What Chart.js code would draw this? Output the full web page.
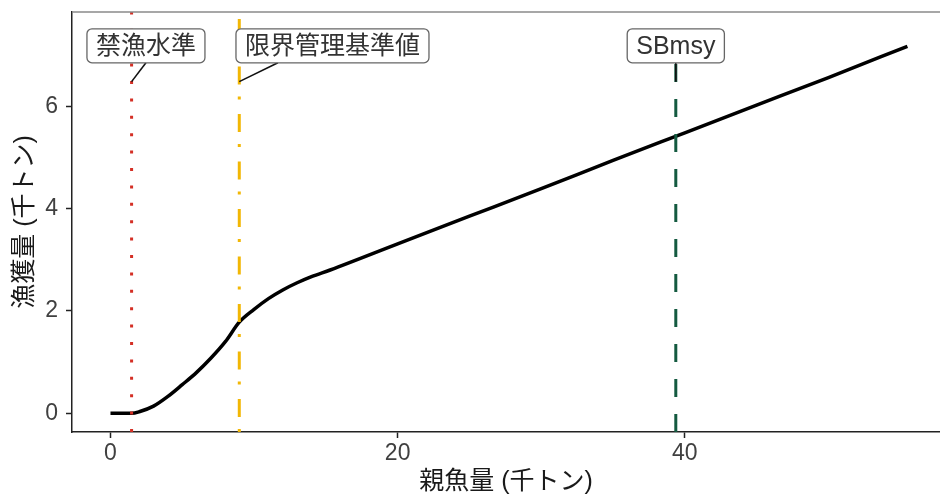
<!DOCTYPE html>
<html>
<head>
<meta charset="utf-8">
<script src="https://cdn.jsdelivr.net/npm/chart.js@4.4.1/dist/chart.umd.min.js"></script>
<style>
  html, body { margin: 0; padding: 0; background: #fff; }
  #wrap { width: 940px; height: 499px; }
</style>
</head>
<body>
<div id="wrap"><canvas id="hcr-chart"></canvas></div>
<script>
// 親魚量 (千トン) に対する漁獲量 (千トン)
const ssb = [0, 1.47, 2, 3, 4, 5, 6, 7, 8, 8.97, 10, 11, 12, 13, 14, 15.3, 20, 25, 30, 35, 40, 45, 50, 55.5];
const catchAmount = [0, 0, 0.03, 0.14, 0.33, 0.56, 0.8, 1.08, 1.4, 1.78, 2.03, 2.24, 2.41, 2.55, 2.67, 2.8, 3.31, 3.85, 4.39, 4.94, 5.48, 6.02, 6.56, 7.17];

// 管理基準値
const refNames = ['禁漁水準', '限界管理基準値', 'SBmsy'];
const refValues = [1.47, 8.97, 39.37];

const xTicks = [0, 20, 40];
const yTicks = [0, 2, 4, 6];
const xRange = [-2.68, 57.77];
const yRange = [-0.365, 7.84];

const FONT = '"Liberation Sans", "Noto Sans CJK JP", sans-serif';
Chart.defaults.font.family = FONT;

const refStyles = [
  { color: '#d42f25', dash: [3, 14.4] },
  { color: '#f2b705', dash: [3, 12, 18, 14.5] },
  { color: '#145a40', dash: [18, 17] }
];

function roundBox(ctx, x, y, w, h, r) {
  ctx.beginPath();
  ctx.moveTo(x + r, y);
  ctx.lineTo(x + w - r, y);
  ctx.arcTo(x + w, y, x + w, y + r, r);
  ctx.lineTo(x + w, y + h - r);
  ctx.arcTo(x + w, y + h, x + w - r, y + h, r);
  ctx.lineTo(x + r, y + h);
  ctx.arcTo(x, y + h, x, y + h - r, r);
  ctx.lineTo(x, y + r);
  ctx.arcTo(x, y, x + r, y, r);
  ctx.closePath();
}

// labels with leader lines, plus the thin frame line on top
const refLabels = {
  id: 'refLabels',
  afterDatasetsDraw(chart, args, opts) {
    const { ctx, chartArea, scales: { x, y } } = chart;
    ctx.save();
    ctx.strokeStyle = '#8a8a8a';
    ctx.lineWidth = 1.5;
    ctx.beginPath();
    ctx.moveTo(chartArea.left, chartArea.top);
    ctx.lineTo(chartArea.right, chartArea.top);
    ctx.stroke();

    ctx.font = '25px ' + FONT;
    ctx.textAlign = 'center';
    ctx.textBaseline = 'middle';
    refNames.forEach((name, i) => {
      const cx = x.getPixelForValue(opts.boxX[i]);
      const cy = y.getPixelForValue(opts.boxY);
      const w = ctx.measureText(name).width + 18;
      const h = 34;

      ctx.strokeStyle = '#111';
      ctx.lineWidth = 1.6;
      ctx.beginPath();
      ctx.moveTo(x.getPixelForValue(opts.linkX[i]), cy + h / 2);
      ctx.lineTo(x.getPixelForValue(refValues[i]), y.getPixelForValue(opts.pointY));
      ctx.stroke();

      roundBox(ctx, cx - w / 2, cy - h / 2, w, h, 5);
      ctx.fillStyle = '#fff';
      ctx.fill();
      ctx.strokeStyle = '#666';
      ctx.lineWidth = 1.3;
      ctx.stroke();
      ctx.fillStyle = '#333';
      ctx.fillText(name, cx, cy + 1);
    });
    ctx.restore();
  }
};

const datasets = refValues.map((v, i) => ({
  data: [{ x: v, y: yRange[0] }, { x: v, y: yRange[1] }],
  borderColor: refStyles[i].color,
  borderWidth: 3,
  borderDash: refStyles[i].dash,
  borderCapStyle: 'butt',
  pointRadius: 0,
  order: 1
}));

datasets.push({
  data: ssb.map((v, i) => ({ x: v, y: catchAmount[i] })),
  borderColor: '#000',
  borderWidth: 3.5,
  cubicInterpolationMode: 'monotone',
  pointRadius: 0,
  order: 2
});

new Chart(document.getElementById('hcr-chart'), {
  type: 'line',
  data: { datasets: datasets },
  plugins: [refLabels],
  options: {
    responsive: true,
    maintainAspectRatio: false,
    animation: false,
    layout: { padding: { top: 12, right: 0, left: 0, bottom: 0 } },
    plugins: {
      legend: { display: false },
      tooltip: { enabled: false },
      refLabels: {
        boxX: [2.47, 15.46, 39.37],
        boxY: 7.18,
        linkX: [2.47, 11.66, 39.37],
        pointY: 6.48
      }
    },
    scales: {
      x: {
        type: 'linear',
        min: xRange[0],
        max: xRange[1],
        afterBuildTicks: s => { s.ticks = xTicks.map(v => ({ value: v })); },
        afterFit: s => { s.height = 67; s.paddingLeft = 0; s.paddingRight = 0; },
        grid: { drawOnChartArea: false, tickLength: 6, tickColor: '#222', tickWidth: 1.5 },
        border: { color: '#222', width: 1.5 },
        ticks: { font: { size: 23 }, color: '#404040', padding: 2 },
        title: {
          display: true,
          text: '親魚量 (千トン)',
          font: { size: 25 },
          color: '#1a1a1a',
          padding: { top: 0, bottom: 2 }
        }
      },
      y: {
        type: 'linear',
        min: yRange[0],
        max: yRange[1],
        afterBuildTicks: s => { s.ticks = yTicks.map(v => ({ value: v })); },
        afterFit: s => { s.width = 72; s.paddingTop = 0; s.paddingBottom = 0; },
        grid: { drawOnChartArea: false, tickLength: 6, tickColor: '#222', tickWidth: 1.5 },
        border: { color: '#222', width: 1.5 },
        ticks: { font: { size: 23 }, color: '#404040', padding: 8 },
        title: {
          display: true,
          text: '漁獲量 (千トン)',
          font: { size: 25 },
          color: '#1a1a1a',
          padding: { top: 10, bottom: 0 }
        }
      }
    }
  }
});
</script>
</body>
</html>
